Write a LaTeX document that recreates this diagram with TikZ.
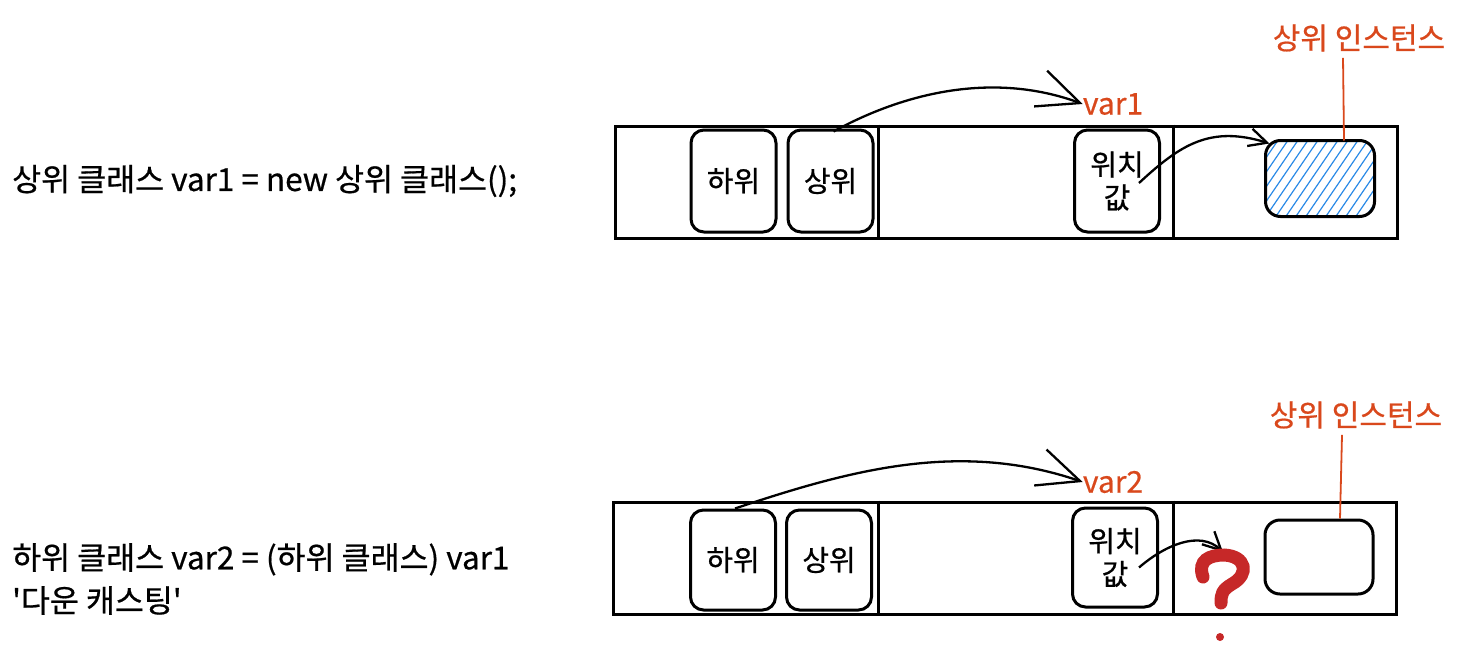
\documentclass[tikz,border=0pt]{standalone}
\usepackage{fontspec}
\setmainfont{Noto Sans CJK KR}[FakeBold=0.6, Ligatures=TeXOff]
\usetikzlibrary{positioning,arrows.meta}
\definecolor{tagred}{HTML}{D9481C}
\definecolor{hatchblue}{HTML}{2A8AE6}
\definecolor{askred}{HTML}{C62828}

\begin{document}
\begin{tikzpicture}[x=1pt,y=-1pt,
    frame/.style={draw, line width=3pt, minimum width=782pt, minimum height=112pt, inner sep=0pt},
    slot/.style={draw, line width=3pt, rounded corners=13pt, minimum width=85pt, minimum height=102pt, align=center, inner sep=0pt, font=\fontsize{29}{33}\selectfont},
    inst/.style={draw, line width=3pt, rounded corners=15pt, minimum width=106pt, minimum height=73pt, inner sep=0pt},
    tag/.style={text=tagred, inner sep=0pt, font=\fontsize{30}{34}\selectfont},
    code/.style={anchor=west, align=left, inner sep=0pt, font=\fontsize{31.5}{43}\selectfont},
    arrow/.style={-{Straight Barb[length=42pt, width=38pt]}, line width=2.3pt},
    small arrow/.style={-{Straight Barb[length=18pt, width=18pt]}, line width=2.3pt}
]
\useasboundingbox (0,0) rectangle (1466,648);

% upcasting row
\node[code] (code1) at (12,181) {상위 클래스 var1 = new 상위 클래스();};

\node[frame] (frame1) at (1006,182) {};
\draw[line width=3pt] ([xshift=265pt]frame1.north west) -- ([xshift=265pt]frame1.south west);
\draw[line width=3pt] ([xshift=560pt]frame1.north west) -- ([xshift=560pt]frame1.south west);

\node[slot] (sub1) at (733.5,181) {하위};
\node[slot, right=9pt of sub1] (sup1) {상위};
\node[slot] (pos1) at (1117,181) {위치\\값};
\node[inst, draw=none] (inst1) at (1320,178.5) {};
\begin{scope}
  \clip[rounded corners=15pt] (inst1.north west) rectangle (inst1.south east);
  \foreach \k in {0,...,22}
    \draw[hatchblue, line width=1.2pt] (1180+10*\k,225) -- ++(65,-95);
\end{scope}
\draw[line width=3pt, rounded corners=15pt] (inst1.north west) rectangle (inst1.south east);

\node[tag] (var1) at (1113,104) {var1};
\node[tag] (lab1) at (1359,38) {상위 인스턴스};
\draw[tagred, line width=1.8pt] ([xshift=-16pt, yshift=-6pt]lab1.south) -- ([xshift=24pt]inst1.north);

\draw[arrow] ([xshift=3pt, yshift=-3pt]sup1.north) .. controls (900,95) and (990,70) .. (var1.west);
\draw[small arrow] ([xshift=-22pt, yshift=-2pt]pos1.east) .. controls (1180,145) and (1210,125) .. ([xshift=4pt, yshift=-3pt]inst1.north west);

% downcasting row
\node[code] (code2) at (12,579) {하위 클래스 var2 = (하위 클래스) var1\\'다운 캐스팅'};

\node[frame, minimum width=783pt] (frame2) at (1004.5,558) {};
\draw[line width=3pt] ([xshift=267pt]frame2.north west) -- ([xshift=267pt]frame2.south west);
\draw[line width=3pt] ([xshift=562pt]frame2.north west) -- ([xshift=562pt]frame2.south west);

\node[slot, minimum height=100pt] (sub2) at (733,560) {하위};
\node[slot, minimum height=100pt, right=8pt of sub2] (sup2) {상위};
\node[slot, minimum height=99pt] (pos2) at (1115,557.5) {위치\\값};
\node[inst, minimum width=108pt, minimum height=74pt] (inst2) at (1319,557) {};

\node[tag] (var2) at (1113,482) {var2};
\node[tag] (lab2) at (1356,415) {상위 인스턴스};
\draw[tagred, line width=1.8pt] ([xshift=-14pt, yshift=-6pt]lab2.south) -- ([xshift=21pt]inst2.north);

\draw[arrow] ([xshift=2pt]sub2.north) .. controls (850,470) and (960,440) .. (var2.west);

\coordinate (ask) at (1223,552);
\draw[small arrow] ([xshift=-20pt, yshift=-10pt]pos2.east) .. controls (1165,545) and (1200,530) .. (ask);
\draw[askred, line width=13pt, line cap=round]
  (1203,577) .. controls (1197,560) and (1210,555) .. (1224,555)
  .. controls (1246,556) and (1250,574) .. (1232,584)
  .. controls (1222,590) and (1221,594) .. (1221,603);
\fill[askred] (1220,637) circle (4pt);
\end{tikzpicture}
\end{document}
